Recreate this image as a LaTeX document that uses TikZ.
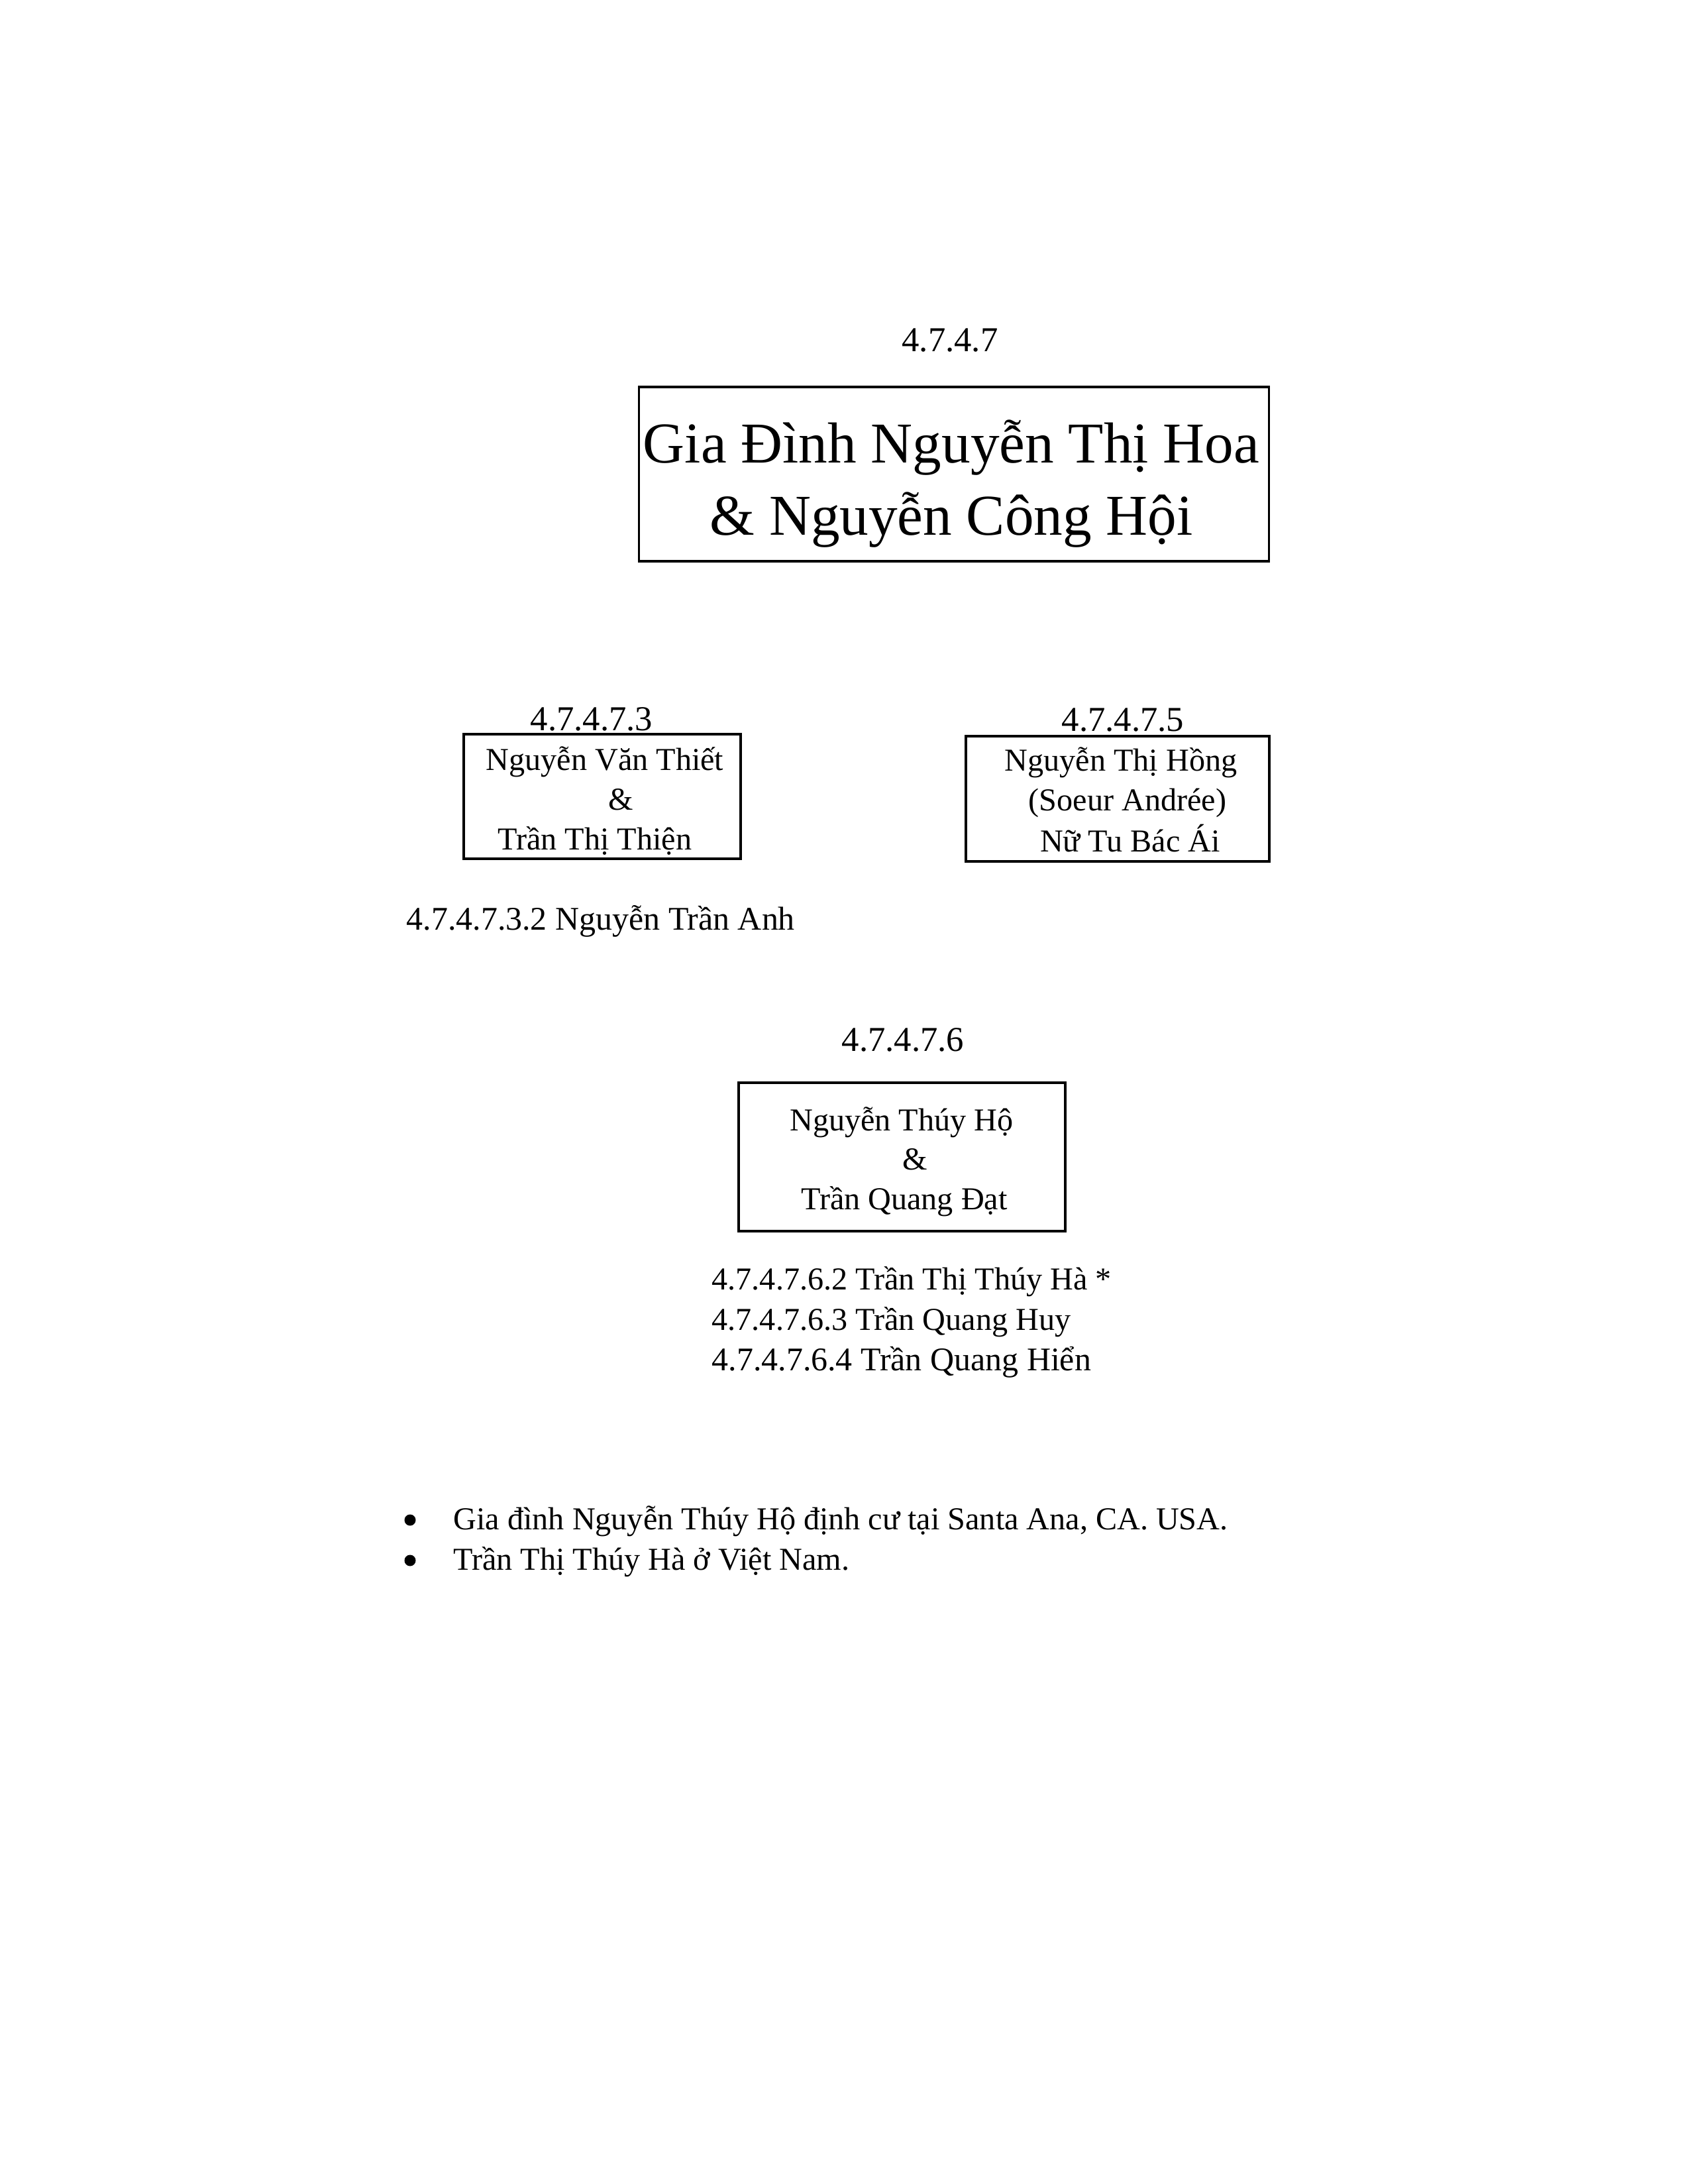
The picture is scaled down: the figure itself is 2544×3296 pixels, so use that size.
\documentclass[tikz,border=0pt]{standalone}
\usepackage{fontspec}
\setmainfont{Liberation Serif}
\newcommand{\txtf}{\fontsize{13.7}{16}\selectfont}
\newcommand{\txtg}{\fontsize{14.2}{17}\selectfont}
\newcommand{\lblf}{\fontsize{15}{18}\selectfont}
\newcommand{\ttlf}{\fontsize{24.8}{30}\selectfont}
\begin{document}
\begin{tikzpicture}[x=0.01cm,y=-0.01cm,
  txt/.style={inner sep=0pt, anchor=base, font=\txtf},
  txtl/.style={inner sep=0pt, anchor=base west, font=\txtf},
  lbl/.style={inner sep=0pt, anchor=base, font=\lblf},
  ttl/.style={inner sep=0pt, anchor=base, font=\ttlf},
  famebox/.style={draw, line width=1pt, inner sep=0pt},
  dot/.style={circle, fill, inner sep=0pt, minimum size=0.17cm}]
\fill[white] (0,0) rectangle (2544,3296);
\useasboundingbox (0,0) rectangle (2544,3296);

% top family
\node[lbl] (l0) at (1434,530) {4.7.4.7};
\node[famebox, minimum width=9.5cm, minimum height=2.63cm] (b0) at (1440,715.5) {};
\node[ttl] (t0a) at (1436,698) {Gia Đình Nguyễn Thị Hoa};
\node[ttl] (t0b) at (1436,807) {\& Nguyễn Công Hội};

% 4.7.4.7.3
\node[lbl] (l3) at (893,1102) {4.7.4.7.3};
\node[famebox, minimum width=4.18cm, minimum height=1.88cm] (b3) at (909,1202) {};
\node[txt] (t3a) at (913,1162) {Nguyễn Văn Thiết};
\node[txt] (t3b) at (937,1222) {\&};
\node[txt] (t3c) at (898,1282) {Trần Thị Thiện};
\node[txtl, font=\txtg] (c32) at (613,1403) {4.7.4.7.3.2 Nguyễn Trần Anh};

% 4.7.4.7.5
\node[lbl] (l5) at (1695,1103) {4.7.4.7.5};
\node[famebox, minimum width=4.58cm, minimum height=1.89cm] (b5) at (1687,1205.5) {};
\node[txt] (t5a) at (1692,1163) {Nguyễn Thị Hồng};
\node[txt] (t5b) at (1702,1223) {(Soeur Andrée)};
\node[txt] (t5c) at (1706,1285) {Nữ Tu Bác Ái};

% 4.7.4.7.6
\node[lbl] (l6) at (1363,1586) {4.7.4.7.6};
\node[famebox, minimum width=4.93cm, minimum height=2.24cm] (b6) at (1361.5,1746) {};
\node[txt] (t6a) at (1361,1706) {Nguyễn Thúy Hộ};
\node[txt] (t6b) at (1381,1765) {\&};
\node[txt] (t6c) at (1365,1825) {Trần Quang Đạt};
\node[txtl] (c62) at (1074,1946) {4.7.4.7.6.2 Trần Thị Thúy Hà *};
\node[txtl] (c63) at (1074,2007) {4.7.4.7.6.3 Trần Quang Huy};
\node[txtl, font=\txtg] (c64) at (1074,2068) {4.7.4.7.6.4 Trần Quang Hiển};

% notes
\node[dot] (d1) at (619,2294) {};
\node[txtl] (n1) at (684,2308) {Gia đình Nguyễn Thúy Hộ định cư tại Santa Ana, CA. USA.};
\node[dot] (d2) at (619,2355) {};
\node[txtl] (n2) at (684,2369) {Trần Thị Thúy Hà ở Việt Nam.};
\end{tikzpicture}
\end{document}
